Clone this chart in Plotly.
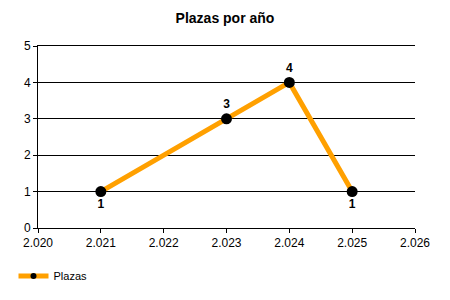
import plotly.graph_objects as go

years = [2021, 2023, 2024, 2025]
plazas = [1, 3, 4, 1]
label_pos = ["bottom center", "top center", "top center", "bottom center"]
x_ticks = [2020, 2021, 2022, 2023, 2024, 2025, 2026]
y_ticks = [0, 1, 2, 3, 4, 5]

fig = go.Figure()
fig.add_trace(go.Scatter(
    x=years, y=plazas, name="Plazas", showlegend=False,
    mode="lines+markers+text",
    line=dict(color="#FFA000", width=5),
    marker=dict(color="black", size=11),
    text=[str(v) for v in plazas],
    textposition=label_pos,
    textfont=dict(family="Liberation Sans, Arial", size=12, color="black", weight="bold"),
    cliponaxis=False,
))
# legend entry with a smaller marker, as in the reference
fig.add_trace(go.Scatter(
    x=[None], y=[None], name="Plazas", mode="lines+markers",
    line=dict(color="#FFA000", width=5),
    marker=dict(color="black", size=6),
))

fig.update_layout(
    width=450, height=300,
    margin=dict(l=38, r=35, t=46, b=72),
    paper_bgcolor="white", plot_bgcolor="white",
    separators=",.",
    font=dict(family="Liberation Sans, Arial", size=12, color="black"),
    title=dict(text="<b>Plazas por año</b>", x=0.5, xanchor="center",
               y=0.94, yanchor="middle", font=dict(size=14, color="black")),
    showlegend=True,
    legend=dict(orientation="h", xref="container", yref="container",
                x=0.03, y=0.08, xanchor="left", yanchor="middle",
                font=dict(size=11, color="black"), itemwidth=30),
    xaxis=dict(range=[2020, 2026], tickvals=x_ticks, tickformat=",d",
               showgrid=False, zeroline=False, showline=True, linecolor="black",
               linewidth=1, mirror=True, ticks="outside", ticklen=4, tickcolor="black"),
    yaxis=dict(range=[0, 5], tickvals=y_ticks, showgrid=True, gridcolor="black",
               gridwidth=1, zeroline=False, showline=True, linecolor="black",
               linewidth=1, ticks="outside", ticklen=4, tickcolor="black"),
)

fig.write_html("out.html")
